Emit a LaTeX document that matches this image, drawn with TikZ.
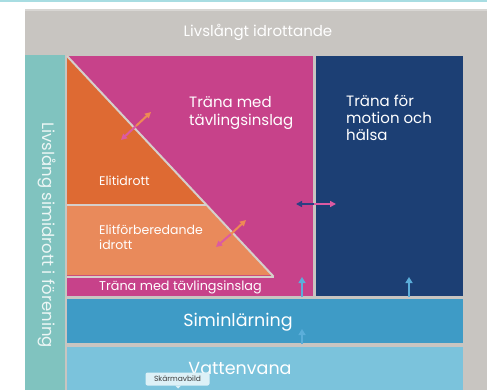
\documentclass[tikz,border=0pt]{standalone}
\usepackage{fontspec}
\setmainfont{Poppins}
\usetikzlibrary{arrows.meta}
\definecolor{topcyan}{HTML}{A8DDE2}
\definecolor{bggray}{HTML}{C8C5C1}
\definecolor{bgtop}{HTML}{D8D6D3}
\definecolor{tealbar}{HTML}{80C3BF}
\definecolor{magbox}{HTML}{C7428A}
\definecolor{navybox}{HTML}{1C3F74}
\definecolor{orangeD}{HTML}{DE6A33}
\definecolor{orangeL}{HTML}{E98A5B}
\definecolor{simblue}{HTML}{3E9BC6}
\definecolor{vattblue}{HTML}{7BC3DC}
\definecolor{arrblue}{HTML}{5BAEDA}
\definecolor{arrpink}{HTML}{DC5AA2}
\definecolor{arrorange}{HTML}{EE8A55}
\definecolor{arrnavy}{HTML}{2C3F82}
\definecolor{sepcol}{HTML}{D6CFCB}
\definecolor{tipfill}{HTML}{DDF1F7}
\definecolor{tiptext}{HTML}{3A3A3A}
\begin{document}
\begin{tikzpicture}[x=1pt,y=-1pt,
  lbl/.style={text=white,inner sep=0pt},
  lblleft/.style={lbl,anchor=west,align=left},
  sep/.style={draw=sepcol,line width=2pt},
  halfarrow/.style={line width=2pt},
  uparrow/.style={draw=arrblue,line width=2.5pt,-{Triangle[length=6pt,width=7pt]}},
  tooltip/.style={fill=tipfill,rounded corners=2pt,text=tiptext,font=\fontsize{7.5}{8}\selectfont,minimum width=64pt,minimum height=13pt,inner sep=1pt}
]
\useasboundingbox (0,0) rectangle (487,390);
\fill[white] (0,0) rectangle (487,390);
\fill[topcyan] (0,0) rectangle (487,2.5);
\fill[bggray] (25,9) rectangle (487,390);
\fill[bgtop] (25,9) rectangle (487,11);
% boxes
\fill[tealbar] (25,55) rectangle (65,390);
\fill[magbox] (67,56) rectangle (313,296);
\fill[navybox] (316,56) rectangle (463,296);
\fill[simblue] (67,299) rectangle (463,343);
\fill[vattblue] (67,347) rectangle (463,390);
% triangle
\fill[orangeD] (67,56) -- (272,275) -- (67,275) -- cycle;
\fill[orangeL] (67,206) -- (206,206) -- (272,275) -- (67,275) -- cycle;
\draw[sep] (67,56) -- (273.5,276.5);
\draw[sep] (67,205) -- (206,205);
\draw[sep] (67,276.5) -- (273.5,276.5);
% texts
\node[lbl,font=\fontsize{15}{16}\selectfont] (top) at (258,32) {Livslångt idrottande};
\node[lblleft,font=\fontsize{15}{18}\selectfont] (tmed) at (189,113) {Träna med\\tävlingsinslag};
\node[lblleft,font=\fontsize{15}{17}\selectfont] (tfor) at (346,118) {Träna för\\motion och\\hälsa};
\node[lblleft,font=\fontsize{12.5}{14}\selectfont] (elit) at (99,181) {Elitidrott};
\node[lblleft,font=\fontsize{12.5}{15}\selectfont] (elitf) at (99,237) {Elitförberedande\\idrott};
\node[lblleft,font=\fontsize{12.8}{14}\selectfont] (tmed2) at (99,287) {Träna med tävlingsinslag};
\node[lbl,font=\fontsize{17.5}{18}\selectfont] (sim) at (238,322) {Siminlärning};
\node[lbl,font=\fontsize{17.5}{18}\selectfont] (vatt) at (240,368) {Vattenvana};
\node[lbl,rotate=-90,font=\fontsize{16.5}{18}\selectfont,text=white!85!tealbar] (vert) at (47,235) {Livslång simidrott i förening};
% double arrows
\coordinate (a1m) at (136,126);
\coordinate (a1p) at (121,140);
\coordinate (a1o) at (151,112);
\draw[halfarrow,draw=arrpink,-{Triangle[length=6pt,width=6pt,fill=arrpink]}] (a1m) -- (a1p);
\draw[halfarrow,draw=arrorange,-{Triangle[length=6pt,width=6pt,fill=arrorange]}] (a1m) -- (a1o);
\coordinate (a2m) at (231,234);
\coordinate (a2p) at (216,247);
\coordinate (a2o) at (246,220);
\draw[halfarrow,draw=arrpink,-{Triangle[length=6pt,width=6pt,fill=arrpink]}] (a2m) -- (a2p);
\draw[halfarrow,draw=arrorange,-{Triangle[length=6pt,width=6pt,fill=arrorange]}] (a2m) -- (a2o);
\coordinate (a3m) at (314,204);
\coordinate (a3n) at (296,204);
\coordinate (a3p) at (336,204);
\draw[halfarrow,draw=arrnavy,-{Triangle[length=6pt,width=6pt,fill=arrnavy]}] (a3m) -- (a3n);
\draw[halfarrow,draw=arrpink,-{Triangle[length=6pt,width=6pt,fill=arrpink]}] (a3m) -- (a3p);
% up arrows
\coordinate (u1s) at (302,297);
\coordinate (u1e) at (302,277);
\coordinate (u2s) at (409,297);
\coordinate (u2e) at (409,277);
\coordinate (u3s) at (302,344);
\coordinate (u3e) at (302,329);
\draw[uparrow] (u1s) -- (u1e);
\draw[uparrow] (u2s) -- (u2e);
\draw[uparrow] (u3s) -- (u3e);
% tooltip
\node[tooltip] (tip) at (177.5,379) {Skärmavbild};
\fill[tipfill] (175,385.5) -- (181,385.5) -- (178,388.5) -- cycle;
\end{tikzpicture}
\end{document}
